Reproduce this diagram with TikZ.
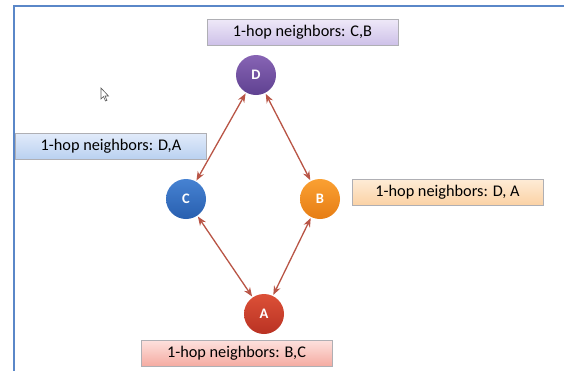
\documentclass[tikz,border=0pt]{standalone}
\usepackage{fontspec}
\setmainfont{Carlito}
\usetikzlibrary{arrows.meta}
\definecolor{framec}{RGB}{90,135,200}
\definecolor{edgec}{RGB}{185,85,70}
\definecolor{dtop}{RGB}{135,100,180}\definecolor{dbot}{RGB}{95,65,145}
\definecolor{ctop}{RGB}{70,130,210}\definecolor{cbot}{RGB}{40,95,175}
\definecolor{btop}{RGB}{250,160,50}\definecolor{bbot}{RGB}{230,125,20}
\definecolor{atop}{RGB}{220,80,55}\definecolor{abot}{RGB}{185,50,35}
\definecolor{pltop}{RGB}{238,232,248}\definecolor{plbot}{RGB}{205,192,232}
\definecolor{bltop}{RGB}{225,235,250}\definecolor{blbot}{RGB}{185,208,240}
\definecolor{ortop}{RGB}{254,236,215}\definecolor{orbot}{RGB}{251,210,165}
\definecolor{pktop}{RGB}{253,225,222}\definecolor{pkbot}{RGB}{245,172,162}
\definecolor{boxline}{RGB}{175,175,180}
\tikzset{
  x=1pt, y=-1pt,
  peer/.style={circle, minimum size=40pt, inner sep=0pt, text=white, font=\bfseries\fontsize{14.5}{16}\selectfont},
  infobox/.style={draw=boxline, line width=0.6pt, minimum width=191pt, minimum height=26pt, inner sep=0pt, font=\fontsize{16.3}{18}\selectfont},
  link/.style={draw=edgec, line width=1.3pt, {Stealth[length=9pt,width=7pt]}-{Stealth[length=9pt,width=7pt]}, shorten <=1pt, shorten >=1pt}
}
\begin{document}
\begin{tikzpicture}
\useasboundingbox (0,0) rectangle (564,370);
\fill[white] (0,0) rectangle (564,370);
\draw[framec, line width=2pt] (14,372) -- (14,6) -- (566,6);
% cursor
\draw[gray!70!black, line width=0.6pt, fill=white] (101,88) -- (101,99) -- (103.5,96.5) -- (105.5,101) -- (107,100.3) -- (105,96) -- (108.5,96) -- cycle;
% peers
\node[peer, top color=dtop, bottom color=dbot] (D) at (256,75) {D};
\node[peer, top color=ctop, bottom color=cbot] (C) at (186,199) {C};
\node[peer, top color=btop, bottom color=bbot] (B) at (320,199) {B};
\node[peer, top color=atop, bottom color=abot] (A) at (264,314) {A};
% info boxes
\node[infobox, top color=pltop, bottom color=plbot] (nD) at (302.5,32.5) {1-hop neighbors: C,B};
\node[infobox, top color=bltop, bottom color=blbot] (nC) at (111,146.5) {1-hop neighbors: D,A};
\node[infobox, top color=ortop, bottom color=orbot] (nB) at (447.5,192) {1-hop neighbors: D, A};
\node[infobox, top color=pktop, bottom color=pkbot] (nA) at (236.5,353) {1-hop neighbors: B,C};
% links
\draw[link] (D) -- (C);
\draw[link] (D) -- (B);
\draw[link] (C) -- (A);
\draw[link] (B) -- (A);
\end{tikzpicture}
\end{document}
